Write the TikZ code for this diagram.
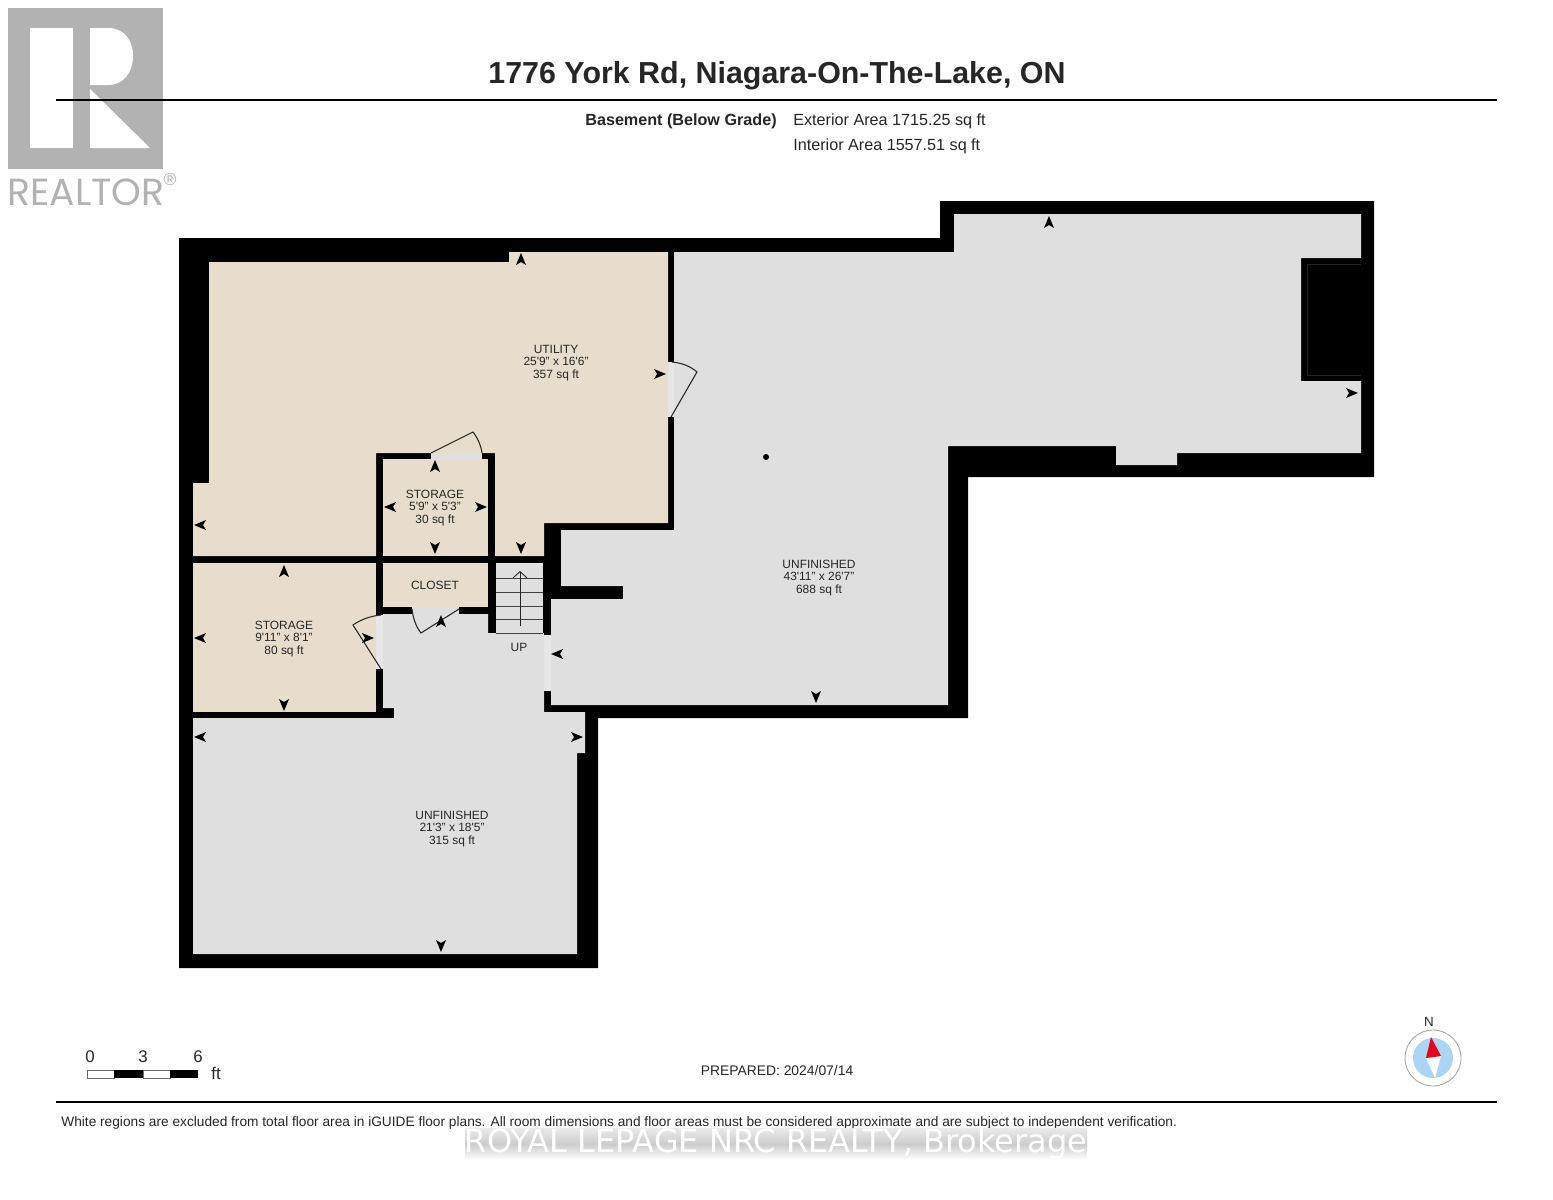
\documentclass[tikz,border=0pt]{standalone}
\usepackage{fontspec}
\usetikzlibrary{arrows.meta}
\setmainfont{Liberation Sans}
\newfontfamily\realtorfont{Poppins}
\newfontfamily\brokerfont{DejaVu Sans}
\definecolor{roombeige}{HTML}{E8DDCD}
\definecolor{roomgray}{HTML}{DFDFDF}
\definecolor{gapgray}{HTML}{E6E6E6}
\definecolor{logogray}{HTML}{B2B2B2}
\definecolor{needlered}{HTML}{E8001C}
\definecolor{dialblue}{HTML}{AAD6F3}
\tikzset{
  roomlabel/.style={font=\fontsize{6.8}{7.1}\selectfont, align=center, text=black!85},
  infolabel/.style={font=\fontsize{9.2}{10}\selectfont, anchor=west, inner sep=0pt, text=black!85},
  scalelabel/.style={font=\fontsize{9.6}{10}\selectfont, inner sep=0pt, text=black!85},
  doorleaf/.style={draw=black!85, line width=0.6pt},
  wallmark/.pic={\fill[black] (6,0) -- (-6,5) -- (-3,0) -- (-6,-5) -- cycle;}
}
\begin{document}
\begin{tikzpicture}[x=0.02cm,y=-0.02cm]
\useasboundingbox (0,0) rectangle (1553,1200);
\fill[white] (0,0) rectangle (1553,1200);
\fill[logogray] (8,8) rectangle (163,169);
\fill[white] (30,28) rectangle (73,148);
\fill[white] (90,28) -- (108,28) .. controls (124,28) and (133,40) .. (133,56) .. controls (133,72) and (124,85) .. (108,85) -- (90,85) -- cycle;
\fill[white] (90,89) -- (150,148) -- (90,148) -- cycle;
\node (realtorname) at (86,192) [font=\realtorfont\fontsize{21.5}{22}\selectfont, text=logogray] {REALTOR};
\node (realtormark) at (170,179) [font=\fontsize{10}{10}\selectfont, inner sep=0pt, text=logogray] {®};
\draw[line width=1.6pt] (56,100) -- (1497,100);
\draw[line width=1.5pt] (56,1102) -- (1497,1102);
\node (title) at (777,76) [font=\bfseries\fontsize{17.3}{18}\selectfont, text=black!85] {1776 York Rd, Niagara-On-The-Lake, ON};
\node (levelname) at (585,121.5) [infolabel, font=\bfseries\fontsize{9.2}{10}\selectfont] {Basement (Below Grade)};
\node (exterior) at (793,121.5) [infolabel] {Exterior Area 1715.25 sq ft};
\node (interior) at (793,146.5) [infolabel] {Interior Area 1557.51 sq ft};

\fill[black] (179,238) -- (940,238) -- (940,201) -- (1374,201) -- (1374,477) -- (968,477) -- (968,718) -- (598,718) -- (598,968) -- (179,968) -- cycle;
\fill[roombeige] (209,262) -- (509,262) -- (509,252) -- (668,252) -- (668,523) -- (544,523) -- (544,556) -- (495,556) -- (495,453) -- (376,453) -- (376,556) -- (193,556) -- (193,483) -- (209,483) -- cycle;
\fill[roombeige] (383,459) rectangle (488,556);
\fill[roombeige] (383,563) rectangle (488,607);
\fill[roombeige] (193,563) rectangle (376,712);
\fill[roomgray] (496,563) rectangle (543,633);
\fill[roomgray] (383,614) -- (488,614) -- (488,633) -- (544,633) -- (544,712) -- (585,712) -- (585,753) -- (577,753) -- (577,954) -- (193,954) -- (193,718) -- (394,718) -- (394,708) -- (383,708) -- cycle;
\fill[roomgray] (954,252) -- (954,214) -- (1361,214) -- (1361,258) -- (1301,258) -- (1301,381) -- (1361,381) -- (1361,453) -- (1177,453) -- (1177,465) -- (1116,465) -- (1116,446) -- (948,446) -- (948,705) -- (551,705) -- (551,599) -- (623,599) -- (623,586) -- (561,586) -- (561,530) -- (674,530) -- (674,252) -- cycle;
\draw[black!85, line width=0.4pt] (1361,264) -- (1307,264) -- (1307,375) -- (1361,375);
\fill[black] (766,457) circle (3);

\fill[roomgray] (431,453) rectangle (482,459);
\fill[roomgray] (412,607) rectangle (459,614);
\fill[gapgray] (376,615) rectangle (383,669);
\fill[gapgray] (668,362) rectangle (674,417);
\fill[gapgray] (544,635) rectangle (551,691);

\coordinate (storagehinge) at (431,453);
\coordinate (storageleaf) at (473,432);
\coordinate (storagejamb) at (482,453);
\coordinate (closethinge) at (459,609);
\coordinate (closetleaf) at (421,633);
\coordinate (closetjamb) at (412,609);
\coordinate (pantryhinge) at (381,669);
\coordinate (pantryleaf) at (353,625);
\coordinate (pantryjamb) at (381,615);
\coordinate (utilityhinge) at (671,417);
\coordinate (utilityleaf) at (697,372);
\coordinate (utilityjamb) at (672,362);
\draw[doorleaf] (storagehinge) -- (storageleaf) .. controls (477,437) and (481,445) .. (storagejamb);
\draw[doorleaf] (closethinge) -- (closetleaf) .. controls (416,627) and (413,618) .. (closetjamb);
\draw[doorleaf] (pantryhinge) -- (pantryleaf) .. controls (360,620) and (370,616) .. (pantryjamb);
\draw[doorleaf] (utilityhinge) -- (utilityleaf) .. controls (690,366) and (682,363) .. (utilityjamb);

\draw[black!75, line width=0.5pt] (496,578) -- (543,578);
\draw[black!75, line width=0.5pt] (496,592) -- (543,592);
\draw[black!75, line width=0.5pt] (496,606) -- (543,606);
\draw[black!75, line width=0.5pt] (496,619) -- (543,619);
\draw[black!75, line width=0.5pt] (496,633) -- (543,633);
\coordinate (stairfoot) at (520,626);
\coordinate (stairhead) at (520,571);
\draw[black!85, line width=0.5pt, -{Straight Barb[length=3.6pt,width=8pt]}] (stairfoot) -- (stairhead);

\pic[rotate=90] at (521,259) {wallmark};
\pic[rotate=0] at (660,374) {wallmark};
\pic[rotate=180] at (200,525) {wallmark};
\pic[rotate=-90] at (521,548) {wallmark};
\pic[rotate=90] at (435,466) {wallmark};
\pic[rotate=180] at (390,507) {wallmark};
\pic[rotate=0] at (481,507) {wallmark};
\pic[rotate=-90] at (435,548) {wallmark};
\pic[rotate=90] at (284,571) {wallmark};
\pic[rotate=180] at (200,638) {wallmark};
\pic[rotate=0] at (368,638) {wallmark};
\pic[rotate=-90] at (284,705) {wallmark};
\pic[rotate=90] at (441,621) {wallmark};
\pic[rotate=90] at (1049,222) {wallmark};
\pic[rotate=0] at (1352,393) {wallmark};
\pic[rotate=-90] at (816,697) {wallmark};
\pic[rotate=180] at (557,654) {wallmark};
\pic[rotate=180] at (200,737) {wallmark};
\pic[rotate=0] at (577,737) {wallmark};
\pic[rotate=-90] at (441,946) {wallmark};

\node (utilitylabel) at (556,363) [roomlabel] {UTILITY\\25\textquotesingle 9" x 16\textquotesingle 6"\\357 sq ft};
\node (smallstorelabel) at (435,508) [roomlabel] {STORAGE\\5\textquotesingle 9" x 5\textquotesingle 3"\\30 sq ft};
\node (closetlabel) at (435,585) [roomlabel] {CLOSET};
\node (storelabel) at (284,639) [roomlabel] {STORAGE\\9\textquotesingle 11" x 8\textquotesingle 1"\\80 sq ft};
\node (uplabel) at (519,647) [roomlabel] {UP};
\node (upperlabel) at (819,578) [roomlabel] {UNFINISHED\\43\textquotesingle 11" x 26\textquotesingle 7"\\688 sq ft};
\node (lowerlabel) at (452,829) [roomlabel] {UNFINISHED\\21\textquotesingle 3" x 18\textquotesingle 5"\\315 sq ft};

\fill[white, draw=black!60, line width=0.3pt] (87,1070) rectangle (114,1078);
\fill[black] (114,1070) rectangle (143,1078);
\fill[white, draw=black!60, line width=0.3pt] (143,1070) rectangle (170,1078);
\fill[black] (170,1070) rectangle (198,1078);
\node (scalezero) at (90,1057) [scalelabel] {0};
\node (scalethree) at (143,1057) [scalelabel] {3};
\node (scalesix) at (198,1057) [scalelabel] {6};
\node (scaleunit) at (216,1073) [scalelabel] {ft};
\node (prepared) at (777,1071) [scalelabel, font=\fontsize{7.9}{9}\selectfont] {PREPARED: 2024/07/14};

\filldraw[fill=white, draw=black!35, line width=0.5pt] (1433,1058) circle (28);
\fill[dialblue] (1433,1058) circle (20);
\fill[white] (1426,1058) -- (1441,1056) -- (1435,1078) -- cycle;
\fill[needlered] (1431,1037) -- (1441,1056) -- (1426,1058) -- cycle;
\node (northlabel) at (1429,1022) [scalelabel, font=\fontsize{7.6}{8}\selectfont] {N};

\node (disclaimer) at (61,1122.5) [infolabel, font=\fontsize{7.8}{9}\selectfont] {White regions are excluded from total floor area in iGUIDE floor plans. All room dimensions and floor areas must be considered approximate and are subject to independent verification.};
\shade[top color=black!8, bottom color=white, middle color=black!20] (465,1128) rectangle (1087,1160);
\node (brokerage) at (776,1144) [font=\brokerfont\fontsize{18.2}{19}\selectfont, text=white] {ROYAL LEPAGE NRC REALTY, Brokerage};
\end{tikzpicture}
\end{document}
